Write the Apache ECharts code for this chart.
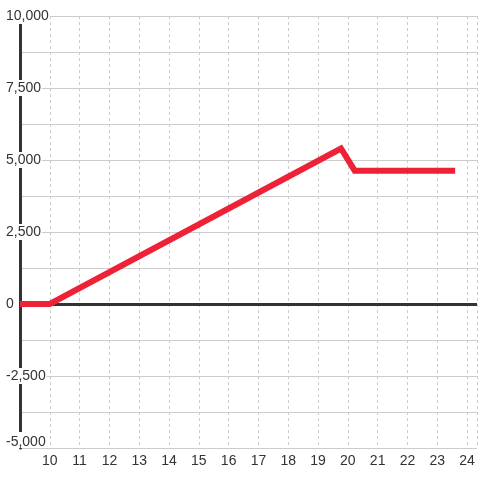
<!DOCTYPE html>
<html>
<head>
<meta charset="utf-8">
<script src="https://cdn.jsdelivr.net/npm/echarts@6/dist/echarts.min.js"></script>
<style>html,body{margin:0;padding:0;background:#fff}#c{width:480px;height:480px}</style>
</head>
<body>
<div id="c"></div>
<script>
var xValues = [9, 10, 19.77, 20.23, 23.6];
var yValues = [0, 0, 5400, 4630, 4630];
var xTicks = [10, 11, 12, 13, 14, 15, 16, 17, 18, 19, 20, 21, 22, 23, 24];
var yTicks = [-5000, -2500, 0, 2500, 5000, 7500, 10000];

function fmt(v) {
  var s = Math.abs(v).toString().replace(/\B(?=(\d{3})+(?!\d))/g, ',');
  return (v < 0 ? '-' : '') + s;
}

var chart = echarts.init(document.getElementById('c'), null, {renderer: 'canvas'});
var FONT = 'Liberation Sans, Arial, sans-serif';
var YMIN = yTicks[0], YMAX = yTicks[yTicks.length - 1];
chart.setOption({
  animation: false,
  backgroundColor: '#fff',
  grid: {left: 20, right: 0, top: 16, bottom: 32, containLabel: false},
  xAxis: {
    type: 'value', min: 9, max: 24.3333, interval: 1,
    axisLine: {show: false}, axisTick: {show: false},
    axisLabel: {
      color: '#333', fontSize: 14, fontFamily: FONT, margin: 6,
      formatter: function (v) { return xTicks.indexOf(v) >= 0 ? String(v) : ''; }
    },
    splitLine: {show: true, lineStyle: {color: '#ccc', width: 1, type: [3, 3]}}
  },
  yAxis: [{
    type: 'value', min: YMIN, max: YMAX, interval: 2500, position: 'left',
    axisLine: {show: true, onZero: false, lineStyle: {color: '#333', width: 3}},
    axisTick: {show: false},
    axisLabel: {show: false},
    splitLine: {show: true, lineStyle: {color: '#ccc', width: 1}},
    minorTick: {show: false, splitNumber: 2},
    minorSplitLine: {show: true, lineStyle: {color: '#ccc', width: 1}}
  }, {
    type: 'value', min: YMIN, max: YMAX, interval: 2500, position: 'left', offset: 0,
    zlevel: 1, z: 3,
    axisLine: {show: false, onZero: false}, axisTick: {show: false},
    splitLine: {show: false},
    axisLabel: {
      color: '#333', fontSize: 14, fontFamily: FONT, margin: 15, align: 'left',
      lineHeight: 12,
      backgroundColor: '#fff', padding: [4, 1, 0, 1],
      verticalAlignMinLabel: 'bottom',
      formatter: function (v) { return yTicks.indexOf(v) >= 0 ? fmt(v) : ''; }
    }
  }],
  series: [{
    type: 'line',
    data: [],
    z: 1,
    markLine: {
      silent: true, symbol: 'none', z: 1,
      label: {show: false},
      lineStyle: {color: '#333', width: 3, type: 'solid'},
      data: [{yAxis: 0}]
    }
  }, {
    type: 'line',
    data: xValues.map(function (x, i) { return [x, yValues[i]]; }),
    showSymbol: false, symbol: 'none',
    lineStyle: {color: '#ee2237', width: 6, join: 'miter'},
    clip: false,
    zlevel: 1,
    z: 10
  }]
});
</script>
</body>
</html>
